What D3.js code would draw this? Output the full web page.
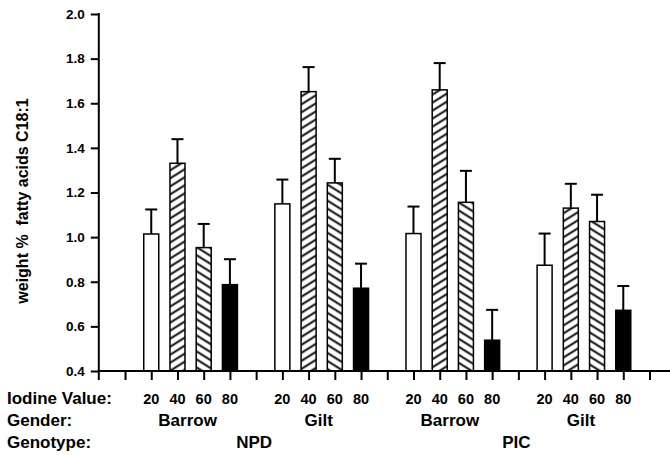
<!DOCTYPE html>
<head>
    <meta charset="utf-8">
    <script src="https://d3js.org/d3.v7.min.js"></script>
    <style>
        body {
            margin: 0;
            background: white;
        }
        text {
            font-family: "Liberation Sans", Arial, sans-serif;
            font-weight: bold;
        }
    </style>
</head>

<body>
<svg id="graph" width=670 height=455></svg>
<script>

    // data
    const iodineValues = ["20", "40", "60", "80"];
    const groupGender = ["Barrow", "Gilt", "Barrow", "Gilt"];
    const genotypes = ["NPD", "PIC"];
    const meanNPDBarrow = [1.014, 1.331, 0.953, 0.787];
    const errNPDBarrow = [0.110, 0.108, 0.106, 0.114];
    const meanNPDGilt = [1.149, 1.652, 1.243, 0.771];
    const errNPDGilt = [0.109, 0.110, 0.108, 0.110];
    const meanPICBarrow = [1.016, 1.660, 1.156, 0.538];
    const errPICBarrow = [0.121, 0.120, 0.141, 0.136];
    const meanPICGilt = [0.874, 1.130, 1.070, 0.672];
    const errPICGilt = [0.142, 0.109, 0.120, 0.109];
    const yTicks = [0.4, 0.6, 0.8, 1.0, 1.2, 1.4, 1.6, 1.8, 2.0];

    const means = [meanNPDBarrow, meanNPDGilt, meanPICBarrow, meanPICGilt];
    const errs = [errNPDBarrow, errNPDGilt, errPICBarrow, errPICGilt];

    let bars = [];
    means.forEach(function (m, g) {
        m.forEach(function (v, i) {
            bars.push({slot: 2 + 5 * g + i, value: v, err: errs[g][i], kind: i});
        });
    });

    let svg = d3.select("#graph");

    let x = d3.scaleLinear().domain([0, 21]).range([98.8, 649.5]);
    let y = d3.scaleLinear().domain([0.4, 2.0]).range([371, 14]);

    // hatch patterns
    let defs = svg.append("defs");
    [["fwd", -32], ["back", 32]].forEach(function (p) {
        let pat = defs.append("pattern")
            .attr("id", p[0])
            .attr("patternUnits", "userSpaceOnUse")
            .attr("width", 10)
            .attr("height", 6.8)
            .attr("patternTransform", "rotate(" + p[1] + ")");
        pat.append("rect").attr("width", 10).attr("height", 6.8).attr("fill", "white");
        pat.append("line")
            .attr("x1", 0).attr("x2", 10)
            .attr("y1", 3.4).attr("y2", 3.4)
            .attr("stroke", "black")
            .attr("stroke-width", 1.9);
    });
    const fills = ["white", "url(#fwd)", "url(#back)", "black"];

    // error bars
    svg.selectAll("line.err").data(bars).enter()
        .append("line")
        .attr("class", "err")
        .attr("x1", d => x(d.slot)).attr("x2", d => x(d.slot))
        .attr("y1", d => y(d.value)).attr("y2", d => y(d.value + d.err))
        .attr("stroke", "black").attr("stroke-width", 2);
    svg.selectAll("line.cap").data(bars).enter()
        .append("line")
        .attr("class", "cap")
        .attr("x1", d => x(d.slot) - 6).attr("x2", d => x(d.slot) + 6)
        .attr("y1", d => y(d.value + d.err)).attr("y2", d => y(d.value + d.err))
        .attr("stroke", "black").attr("stroke-width", 2);

    // bars
    svg.selectAll("rect.bar").data(bars).enter()
        .append("rect")
        .attr("class", "bar")
        .attr("x", d => x(d.slot) - 7.5)
        .attr("width", 15)
        .attr("y", d => y(d.value))
        .attr("height", d => y(0.4) - y(d.value))
        .attr("fill", d => fills[d.kind])
        .attr("stroke", "black")
        .attr("stroke-width", 1.5);

    // axes
    let yAxis = d3.axisLeft(y).tickValues(yTicks).tickSize(8).tickPadding(6).tickFormat(d3.format(".1f"));
    let gy = svg.append("g")
        .attr("transform", "translate(" + x(0) + ",0)")
        .call(yAxis);
    gy.select(".domain").remove();
    gy.selectAll("line").attr("stroke-width", 2);
    gy.selectAll("text").attr("font-size", 13.5).attr("font-family", null).attr("fill", "black");

    let xAxis = d3.axisBottom(x).tickValues(d3.range(1, 22)).tickSize(9).tickFormat("");
    let gx = svg.append("g")
        .attr("transform", "translate(0," + y(0.4) + ")")
        .call(xAxis);
    gx.select(".domain").remove();
    gx.selectAll("line").attr("stroke-width", 2);

    svg.append("line")
        .attr("x1", x(0)).attr("x2", 670)
        .attr("y1", y(0.4)).attr("y2", y(0.4))
        .attr("stroke", "black").attr("stroke-width", 2);
    svg.append("line")
        .attr("x1", x(0)).attr("x2", x(0))
        .attr("y1", y(2.0) - 1).attr("y2", y(0.4) + 9)
        .attr("stroke", "black").attr("stroke-width", 2);

    // y title
    svg.append("text")
        .attr("transform", "translate(28,201) rotate(-90)")
        .attr("text-anchor", "middle")
        .attr("font-size", 16)
        .style("white-space", "pre")
        .text("weight %  fatty acids C18:1");

    // category labels under the axis
    const rowY = [404, 426, 448];
    svg.append("text").attr("x", 7).attr("y", rowY[0]).attr("font-size", 17).text("Iodine Value:");
    svg.append("text").attr("x", 7).attr("y", rowY[1]).attr("font-size", 17).text("Gender:");
    svg.append("text").attr("x", 7).attr("y", rowY[2]).attr("font-size", 17).text("Genotype:");

    svg.selectAll("text.iod").data(bars).enter()
        .append("text")
        .attr("class", "iod")
        .attr("x", d => x(d.slot))
        .attr("y", rowY[0])
        .attr("text-anchor", "middle")
        .attr("font-size", 14.5)
        .text(d => iodineValues[d.kind]);

    svg.selectAll("text.gender").data(groupGender).enter()
        .append("text")
        .attr("class", "gender")
        .attr("x", (d, g) => x(3.5 + 5 * g) - 3)
        .attr("y", rowY[1])
        .attr("text-anchor", "middle")
        .attr("font-size", 17)
        .text(d => d);

    svg.selectAll("text.geno").data(genotypes).enter()
        .append("text")
        .attr("class", "geno")
        .attr("x", (d, k) => x(6 + 10 * k) - 2)
        .attr("y", rowY[2])
        .attr("text-anchor", "middle")
        .attr("font-size", 17)
        .text(d => d);

</script>

</body>
